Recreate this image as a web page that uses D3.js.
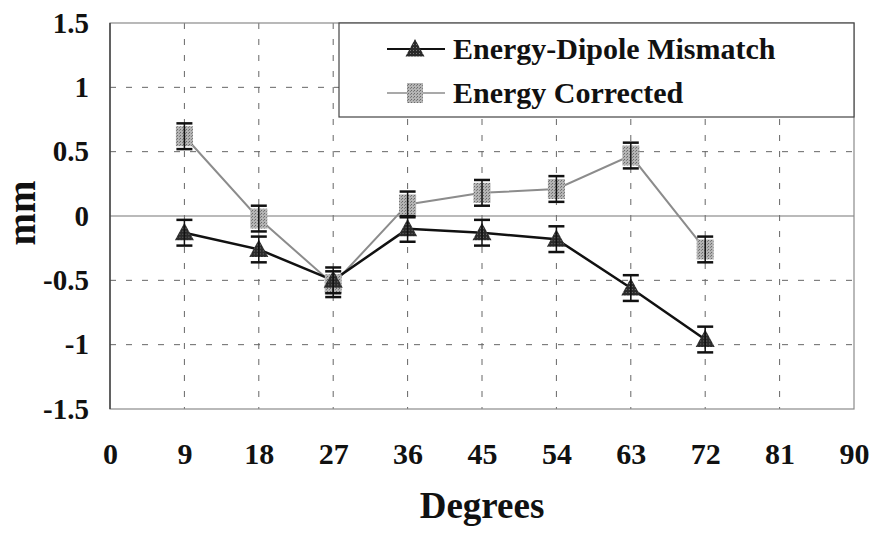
<!DOCTYPE html>
<html>
<head>
<meta charset="utf-8">
<script src="https://cdn.jsdelivr.net/npm/d3@7"></script>
<style>
  body { margin: 0; background: #fff; }
  svg { display: block; }
  text { font-family: "Liberation Serif", "Times New Roman", serif; font-weight: bold; fill: #111; }
</style>
</head>
<body>
<svg width="875" height="533"></svg>
<script>
// data
var degrees = [9, 18, 27, 36, 45, 54, 63, 72];
var mismatch = [-0.13, -0.26, -0.5, -0.1, -0.13, -0.18, -0.56, -0.96];
var mismatchErr = [0.1, 0.1, 0.1, 0.1, 0.1, 0.1, 0.1, 0.1];
var corrected = [0.62, -0.02, -0.53, 0.09, 0.18, 0.21, 0.47, -0.26];
var correctedErr = [0.1, 0.1, 0.1, 0.1, 0.1, 0.1, 0.1, 0.1];
var xTicks = [0, 9, 18, 27, 36, 45, 54, 63, 72, 81, 90];
var yTicks = [-1.5, -1, -0.5, 0, 0.5, 1, 1.5];
var seriesNames = ["Energy-Dipole Mismatch", "Energy Corrected"];

var svg = d3.select("svg");
var plotLeft = 110, plotRight = 854, plotTop = 23, plotBottom = 409;

var x = d3.scaleLinear().domain([0, 90]).range([plotLeft, plotRight]);
var y = d3.scaleLinear().domain([-1.5, 1.5]).range([plotBottom, plotTop]);

// stipple patterns for the markers
var defs = svg.append("defs");
var pg = defs.append("pattern").attr("id", "grayDots")
  .attr("width", 3).attr("height", 3).attr("patternUnits", "userSpaceOnUse");
pg.append("rect").attr("width", 3).attr("height", 3).attr("fill", "#b4b4b4");
pg.append("rect").attr("width", 1).attr("height", 1).attr("fill", "#6a6a6a");
pg.append("rect").attr("x", 2).attr("y", 1).attr("width", 1).attr("height", 1).attr("fill", "#808080");
var pd = defs.append("pattern").attr("id", "darkDots")
  .attr("width", 3).attr("height", 3).attr("patternUnits", "userSpaceOnUse");
pd.append("rect").attr("width", 3).attr("height", 3).attr("fill", "#2a2a2a");
pd.append("rect").attr("x", 1).attr("y", 1).attr("width", 1).attr("height", 1).attr("fill", "#777");

// grid
svg.append("g")
  .selectAll("line")
  .data(xTicks.slice(1, -1)).enter()
  .append("line")
  .attr("x1", function(d) { return x(d); })
  .attr("x2", function(d) { return x(d); })
  .attr("y1", plotTop).attr("y2", plotBottom)
  .attr("stroke", "#666").attr("stroke-width", 1)
  .attr("stroke-dasharray", "6,10");

svg.append("g")
  .selectAll("line")
  .data(yTicks.filter(function(d) { return d !== 0 && Math.abs(d) !== 1.5; })).enter()
  .append("line")
  .attr("x1", plotLeft).attr("x2", plotRight)
  .attr("y1", function(d) { return y(d); })
  .attr("y2", function(d) { return y(d); })
  .attr("stroke", "#666").attr("stroke-width", 1)
  .attr("stroke-dasharray", "6,10");

// zero line
svg.append("line")
  .attr("x1", plotLeft).attr("x2", plotRight)
  .attr("y1", y(0)).attr("y2", y(0))
  .attr("stroke", "#777").attr("stroke-width", 1.2);

// frame
svg.append("rect")
  .attr("x", plotLeft).attr("y", plotTop)
  .attr("width", plotRight - plotLeft).attr("height", plotBottom - plotTop)
  .attr("fill", "none").attr("stroke", "#8a8a8a").attr("stroke-width", 1.2);
svg.append("line")
  .attr("x1", plotLeft).attr("x2", plotLeft).attr("y1", plotTop).attr("y2", plotBottom)
  .attr("stroke", "#333").attr("stroke-width", 1.3);

// axes (labels only)
var xAxis = svg.append("g")
  .attr("transform", "translate(0," + 464 + ")")
  .call(d3.axisBottom(x).tickValues(xTicks).tickSize(0).tickPadding(0).tickFormat(d3.format("d")));
xAxis.select(".domain").remove();
xAxis.selectAll("text")
  .attr("dy", 0).attr("y", 0)
  .style("font-family", "Liberation Serif, serif")
  .style("font-weight", "bold")
  .style("font-size", "30px")
  .attr("fill", "#111");

var yAxis = svg.append("g")
  .attr("transform", "translate(" + 89 + ",0)")
  .call(d3.axisLeft(y).tickValues(yTicks).tickSize(0).tickPadding(0).tickFormat(function(d) { return String(d); }));
yAxis.select(".domain").remove();
yAxis.selectAll("text")
  .attr("x", 0).attr("dy", "0.32em")
  .style("font-family", "Liberation Serif, serif")
  .style("font-weight", "bold")
  .style("font-size", "29px")
  .attr("fill", "#111");

// axis titles
svg.append("text")
  .attr("x", 482).attr("y", 518)
  .attr("text-anchor", "middle")
  .style("font-size", "37px")
  .text("Degrees");

svg.append("text")
  .attr("transform", "translate(35,213) rotate(-90)")
  .attr("text-anchor", "middle")
  .style("font-size", "39px")
  .text("mm");

// series lines
var line = d3.line()
  .x(function(d) { return x(d[0]); })
  .y(function(d) { return y(d[1]); });

svg.append("path")
  .datum(d3.zip(degrees, corrected))
  .attr("d", line)
  .attr("fill", "none").attr("stroke", "#8c8c8c").attr("stroke-width", 2);

svg.append("path")
  .datum(d3.zip(degrees, mismatch))
  .attr("d", line)
  .attr("fill", "none").attr("stroke", "#111").attr("stroke-width", 2.5);

// error bars
function errorBars(vals, errs) {
  var g = svg.append("g").attr("stroke", "#111").attr("stroke-width", 2.5);
  var data = d3.zip(degrees, vals, errs);
  g.selectAll(".stem").data(data).enter().append("line")
    .attr("x1", function(d) { return x(d[0]); })
    .attr("x2", function(d) { return x(d[0]); })
    .attr("y1", function(d) { return y(d[1] + d[2]); })
    .attr("y2", function(d) { return y(d[1] - d[2]); })
    .attr("stroke-width", 1.5);
  [1, -1].forEach(function(s) {
    g.selectAll(".cap").data(data).enter().append("line")
      .attr("x1", function(d) { return x(d[0]) - 8; })
      .attr("x2", function(d) { return x(d[0]) + 8; })
      .attr("y1", function(d) { return y(d[1] + s * d[2]); })
      .attr("y2", function(d) { return y(d[1] + s * d[2]); });
  });
}

var triPath = "M0,-10L9.5,7.5L-9.5,7.5Z";

// squares first, triangles on top
svg.append("g").selectAll("rect")
  .data(d3.zip(degrees, corrected)).enter()
  .append("rect")
  .attr("x", function(d) { return x(d[0]) - 8.5; })
  .attr("y", function(d) { return y(d[1]) - 10; })
  .attr("width", 17).attr("height", 20)
  .attr("fill", "url(#grayDots)");
errorBars(corrected, correctedErr);

svg.append("g").selectAll("path")
  .data(d3.zip(degrees, mismatch)).enter()
  .append("path")
  .attr("transform", function(d) { return "translate(" + x(d[0]) + "," + y(d[1]) + ")"; })
  .attr("d", triPath)
  .attr("fill", "url(#darkDots)");
errorBars(mismatch, mismatchErr);

// legend
var legend = svg.append("g");
legend.append("rect")
  .attr("x", 339).attr("y", plotTop)
  .attr("width", plotRight - 339).attr("height", 117 - plotTop)
  .attr("fill", "#fff").attr("stroke", "#444").attr("stroke-width", 1.2);

var rows = [49, 93];
legend.append("line")
  .attr("x1", 387).attr("x2", 445).attr("y1", rows[0]).attr("y2", rows[0])
  .attr("stroke", "#111").attr("stroke-width", 2);
legend.append("path")
  .attr("transform", "translate(415," + rows[0] + ")")
  .attr("d", triPath).attr("fill", "url(#darkDots)");
legend.append("line")
  .attr("x1", 387).attr("x2", 445).attr("y1", rows[1]).attr("y2", rows[1])
  .attr("stroke", "#8c8c8c").attr("stroke-width", 1.5);
legend.append("rect")
  .attr("x", 407).attr("y", rows[1] - 10).attr("width", 16).attr("height", 20)
  .attr("fill", "url(#grayDots)");

legend.selectAll("text.lab")
  .data(seriesNames).enter()
  .append("text")
  .attr("x", 453)
  .attr("y", function(d, i) { return rows[i] + 10; })
  .style("font-size", "30px")
  .text(function(d) { return d; });
</script>
</body>
</html>
